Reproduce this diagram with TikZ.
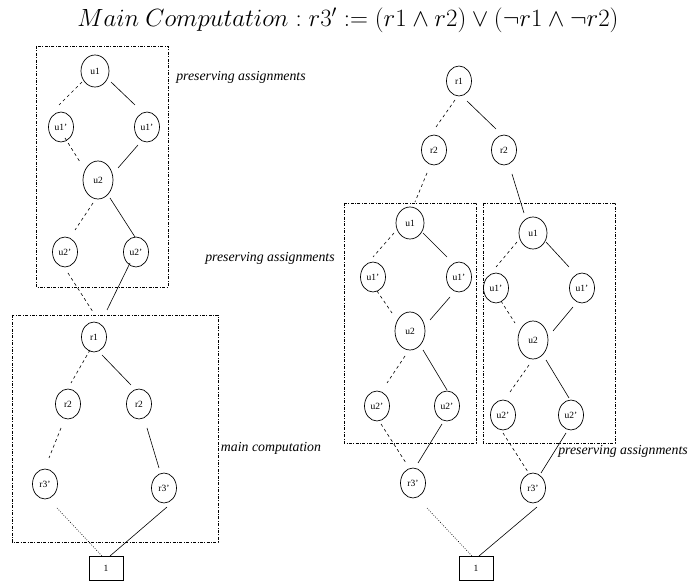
\documentclass[tikz,border=0pt]{standalone}
\usepackage[no-math]{fontspec}
\setmainfont{Liberation Serif}
\usetikzlibrary{shapes.geometric,calc}
\tikzset{
 nd/.style={ellipse,draw,line width=0.7pt,minimum width=25pt,minimum height=30pt,inner sep=0pt,font=\fontsize{9.5}{10}\selectfont},
 ndu1/.style={nd,minimum width=28pt,minimum height=32pt},
 ndu2/.style={nd,minimum width=30pt,minimum height=38pt},
 sink/.style={rectangle,draw,line width=0.7pt,minimum width=34pt,minimum height=24pt,inner sep=0pt,font=\fontsize{9.5}{10}\selectfont},
 grp/.style={draw,line width=0.6pt,dash pattern=on 3pt off 1.5pt on 0.8pt off 1.5pt},
 lab/.style={font=\fontsize{13.8}{16}\selectfont\itshape},
 sol/.style={line width=0.6pt},
 dsh/.style={line width=0.6pt,dash pattern=on 3pt off 3pt},
 dtt/.style={line width=0.6pt,dash pattern=on 0.8pt off 1.6pt},
}
\begin{document}
\begin{tikzpicture}[x=1pt,y=-1pt]
\useasboundingbox (0,0) rectangle (689,585);
\node (title) at (348,20) {\fontsize{24.4}{28}\selectfont $Main\ Computation : r3' := (r1 \wedge r2) \vee (\neg r1 \wedge \neg r2)$};
% group boxes
\draw[grp] (36,46) rectangle (168,287);
\draw[grp] (12,315) rectangle (218,542);
\draw[grp] (344,203) rectangle (476,443);
\draw[grp] (483,203) rectangle (615,443);
% labels
\node[lab] (lab1) at (241,77) {preserving assignments};
\node[lab] (lab2) at (270,258) {preserving assignments};
\node[lab] (lab3) at (271,448) {main computation};
\node[lab] (lab4) at (623,451) {preserving assignments};
% left nodes
\node[ndu1] (Lu1) at (95,71) {u1};
\node[nd] (Lu1a) at (61,127) {u1'};
\node[nd] (Lu1b) at (147,127) {u1'};
\node[ndu2] (Lu2) at (98,180) {u2};
\node[nd] (Lu2a) at (65,252) {u2'};
\node[nd] (Lu2b) at (136,252) {u2'};
\node[nd] (Lr1) at (94,337) {r1};
\node[nd] (Lr2a) at (68,404) {r2};
\node[nd] (Lr2b) at (139,404) {r2};
\node[nd] (Lr3a) at (45,484) {r3'};
\node[nd] (Lr3b) at (164,488) {r3'};
\node[sink] (Lone) at (106,568) {1};
% left edges
\draw[dsh] ($(Lu1)+(-13,11)$) -- ($(Lu1a)+(-2,-22)$);
\draw[sol] ($(Lu1)+(16,11)$) -- ($(Lu1b)+(-12,-22)$);
\draw[dsh] ($(Lu1a)+(4,11)$) -- ($(Lu2)+(-18,-18)$);
\draw[sol] ($(Lu1b)+(-9,18)$) -- ($(Lu2)+(20,-12)$);
\draw[dsh] ($(Lu2)+(-5,23)$) -- ($(Lu2a)+(10,-22)$);
\draw[sol] ($(Lu2)+(12,18)$) -- ($(Lu2b)+(-1,-15)$);
\draw[dsh] ($(Lu2a)+(3,21)$) -- ($(Lr1)+(-1,-25)$);
\draw[sol] ($(Lu2b)+(-6,11)$) -- ($(Lr1)+(13,-27)$);
\draw[dsh] ($(Lr1)+(-4,13)$) -- ($(Lr2a)+(3,-21)$);
\draw[sol] ($(Lr1)+(8,18)$) -- ($(Lr2b)+(-8,-19)$);
\draw[dsh] ($(Lr2a)+(-7,24)$) -- ($(Lr3a)+(4,-26)$);
\draw[sol] ($(Lr2b)+(8,24)$) -- ($(Lr3b)+(-5,-20)$);
\draw[dtt] ($(Lr3a)+(12,24)$) -- ($(Lone)+(-4,-12)$);
\draw[sol] ($(Lr3b)+(3,19)$) -- ($(Lone)+(4,-12)$);
% right nodes
\node[nd] (Rr1) at (459,81) {r1};
\node[nd] (Rr2a) at (434,150) {r2};
\node[nd] (Rr2b) at (504,150) {r2};
\node[ndu1] (Au1) at (410,223) {u1};
\node[nd] (Au1a) at (373,277) {u1'};
\node[nd] (Au1b) at (459,277) {u1'};
\node[ndu2] (Au2) at (410,331) {u2};
\node[nd] (Au2a) at (377,406) {u2'};
\node[nd] (Au2b) at (447,406) {u2'};
\node[ndu1] (Bu1) at (533,233) {u1};
\node[nd] (Bu1a) at (496,288) {u1'};
\node[nd] (Bu1b) at (582,288) {u1'};
\node[ndu2] (Bu2) at (533,340) {u2};
\node[nd] (Bu2a) at (503,415) {u2'};
\node[nd] (Bu2b) at (571,415) {u2'};
\node[nd] (Rr3a) at (413,483) {r3'};
\node[nd] (Rr3b) at (533,488) {r3'};
\node[sink] (Rone) at (476,568) {1};
% right edges
\draw[dsh] ($(Rr1)+(-4,19)$) -- ($(Rr2a)+(2,-23)$);
\draw[sol] ($(Rr1)+(8,20)$) -- ($(Rr2b)+(-8,-21)$);
\draw[dsh] ($(Rr2a)+(-7,23)$) -- ($(Au1)+(5,-21)$);
\draw[sol] ($(Rr2b)+(8,24)$) -- ($(Bu1)+(-9,-20)$);
\draw[dsh] ($(Au1)+(-16,10)$) -- ($(Au1a)+(0,-20)$);
\draw[sol] ($(Au1)+(13,10)$) -- ($(Au1b)+(-12,-20)$);
\draw[dsh] ($(Bu1)+(-16,9)$) -- ($(Bu1a)+(0,-21)$);
\draw[sol] ($(Bu1)+(13,9)$) -- ($(Bu1b)+(-13,-21)$);
\draw[dsh] ($(Au1a)+(4,14)$) -- ($(Au2)+(-18,-18)$);
\draw[sol] ($(Au1b)+(-9,20)$) -- ($(Au2)+(20,-11)$);
\draw[dsh] ($(Bu1a)+(5,13)$) -- ($(Bu2)+(-18,-17)$);
\draw[sol] ($(Bu1b)+(-9,19)$) -- ($(Bu2)+(20,-9)$);
\draw[dsh] ($(Au2)+(-5,25)$) -- ($(Au2a)+(10,-23)$);
\draw[sol] ($(Au2)+(13,19)$) -- ($(Au2b)+(0,-16)$);
\draw[dsh] ($(Bu2)+(-4,25)$) -- ($(Bu2a)+(7,-23)$);
\draw[sol] ($(Bu2)+(13,20)$) -- ($(Bu2b)+(-2,-17)$);
\draw[dsh] ($(Au2a)+(4,18)$) -- ($(Rr3a)+(-7,-20)$);
\draw[sol] ($(Au2b)+(-5,18)$) -- ($(Rr3a)+(5,-20)$);
\draw[dsh] ($(Bu2a)+(0,18)$) -- ($(Rr3b)+(-5,-16)$);
\draw[sol] ($(Bu2b)+(-5,18)$) -- ($(Rr3b)+(8,-15)$);
\draw[dtt] ($(Rr3a)+(14,25)$) -- ($(Rone)+(-4,-12)$);
\draw[sol] ($(Rr3b)+(4,19)$) -- ($(Rone)+(3,-12)$);
\end{tikzpicture}
\end{document}
